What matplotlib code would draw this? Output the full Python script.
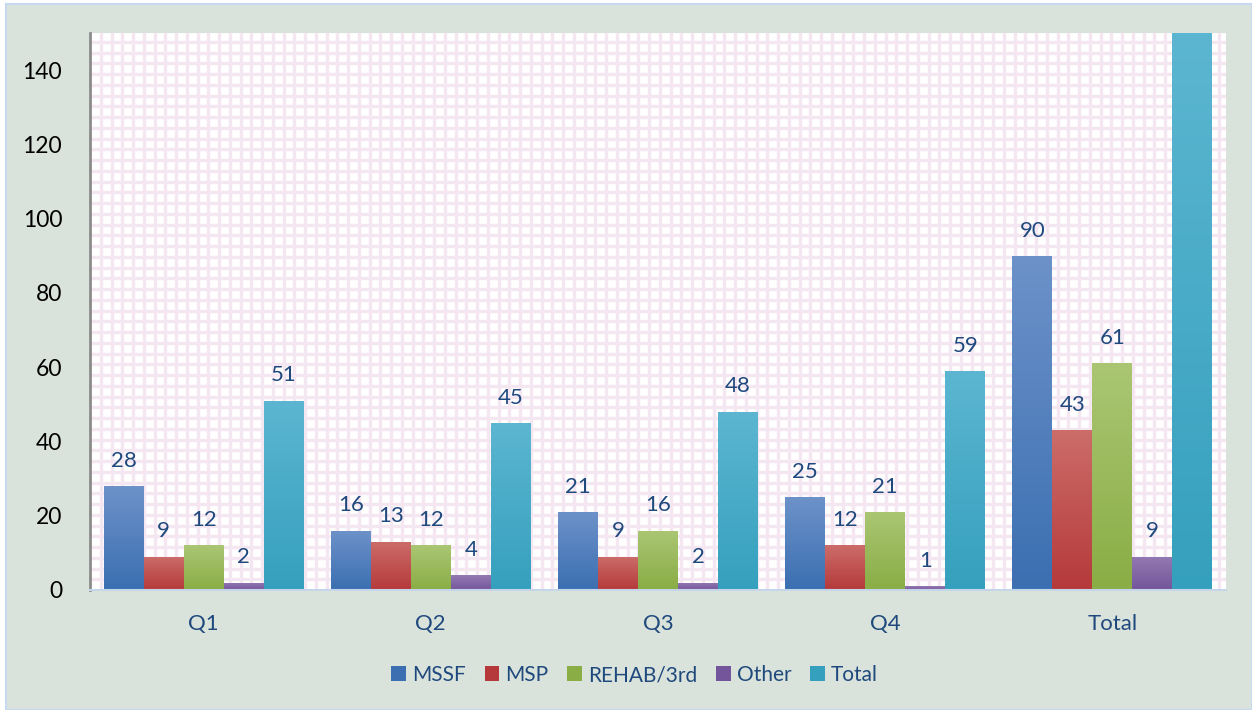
import numpy as np
import matplotlib
matplotlib.use("Agg")
import matplotlib.pyplot as plt
from matplotlib.patches import Patch, Rectangle
from matplotlib.colors import LinearSegmentedColormap

plt.rcParams['font.family'] = ['Lato', 'DejaVu Sans']

categories = ["Q1", "Q2", "Q3", "Q4", "Total"]
series = ["MSSF", "MSP", "REHAB/3rd", "Other", "Total"]
mssf = [28, 16, 21, 25, 90]
msp = [9, 13, 9, 12, 43]
rehab = [12, 12, 16, 21, 61]
other = [2, 4, 2, 1, 9]
total = [51, 45, 48, 59, 203]
values = [mssf, msp, rehab, other, total]

# (top colour, bottom colour) for the vertical gradient
grads = [("#6d92c9", "#3b6fb1"),
         ("#cc6d69", "#b5393a"),
         ("#aac673", "#8aad45"),
         ("#937ab2", "#74559b"),
         ("#5cb6d1", "#35a0bd")]
label_color = "#1f497d"
bg = "#dae3db"

W, H = 1252, 710
fig = plt.figure(figsize=(W / 100, H / 100), dpi=100)
fig.patch.set_facecolor("white")
fig.patches.append(Rectangle((6 / W, 0), 1 - 6 / W, 1 - 4 / H, transform=fig.transFigure,
                             facecolor=bg, edgecolor="#c6d9f0", lw=1.5, zorder=-10))

left, right, top, bottom = 90, 1226, 33, 590
ax = fig.add_axes([left / W, 1 - bottom / H, (right - left) / W, (bottom - top) / H])
ax.set_facecolor("white")

# fine pink grid pattern (drawn in axes-fraction space)
pitch = 10.75
nx = int((right - left) / pitch) + 1
ny = int((bottom - top) / pitch) + 1
for i in range(1, nx + 1):
    ax.plot([i * pitch / (right - left)] * 2, [0, 1], transform=ax.transAxes,
            color="#f4e7f2", lw=2.4, zorder=0)
for j in range(1, ny + 1):
    ax.plot([0, 1], [j * pitch / (bottom - top)] * 2, transform=ax.transAxes,
            color="#f4e7f2", lw=2.4, zorder=0)

x = np.arange(len(categories))
w = 0.176
for k, (name, vals) in enumerate(zip(series, values)):
    pos = x + (k - 2) * w
    bars = ax.bar(pos, vals, width=w, color="none", edgecolor="none", zorder=2)
    cmap = LinearSegmentedColormap.from_list(name, [grads[k][1], grads[k][0]])
    grad = np.linspace(0, 1, 256).reshape(-1, 1)
    for b in bars:
        bx, by = b.get_x(), b.get_y()
        bw, bh = b.get_width(), b.get_height()
        im = ax.imshow(grad, cmap=cmap, origin="lower", aspect="auto",
                       extent=[bx, bx + bw, 0, min(bh, 150)], zorder=2)
        im.set_clip_path(b)
    for p, v in zip(pos, vals):
        if v <= 150:
            ax.annotate(str(v), (p, v), xytext=(0, 11), textcoords="offset points",
                        ha="center", va="bottom", fontsize=16, color=label_color)

ax.set_xlim(-0.5, 4.5)
ax.set_ylim(0, 150)
ax.set_yticks(range(0, 141, 20))
ax.set_xticks(x)
ax.set_xticklabels(categories, color=label_color, fontsize=16)
ax.tick_params(axis="y", length=0, pad=20, labelsize=16.5, labelcolor="black")
ax.tick_params(axis="x", length=0, pad=17)

for s in ["top", "right"]:
    ax.spines[s].set_visible(False)
ax.spines["left"].set_color("#8c8c8c")
ax.spines["left"].set_linewidth(2)
ax.spines["bottom"].set_color("#c5d5ea")
ax.spines["bottom"].set_linewidth(1.5)

handles = [Patch(facecolor=grads[k][1], edgecolor="none") for k in range(len(series))]
fig.legend(handles, series, loc="center", bbox_to_anchor=(0.507, 1 - 675 / H), ncol=5,
           frameon=False, fontsize=15, labelcolor=label_color, handlelength=0.7,
           handleheight=0.7, handletextpad=0.3, columnspacing=0.9)

fig.savefig("out.png", dpi=100, facecolor=fig.get_facecolor())
